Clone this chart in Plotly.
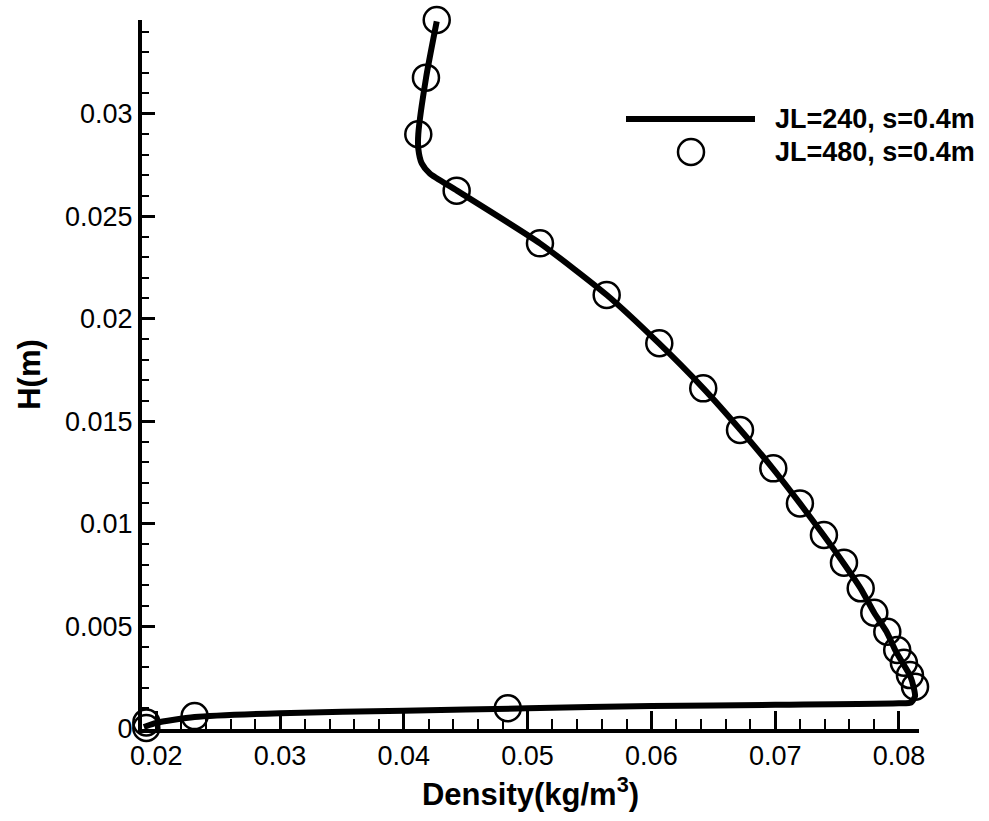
import plotly.graph_objects as go

# ---- data: JL=240 (solid line) ----
line_density = [0.0190, 0.0200, 0.0231, 0.0300, 0.0400, 0.0500, 0.0600, 0.0700, 0.0800, 0.0810,
                0.0813, 0.0812, 0.0809, 0.0803, 0.0797, 0.0790, 0.0780, 0.0769, 0.0755, 0.0739,
                0.0720, 0.0698, 0.0672, 0.0642, 0.0606, 0.0564, 0.0510, 0.0443, 0.0421, 0.04145,
                0.04117, 0.04117, 0.0418, 0.04266]
line_height = [0.00010, 0.00030, 0.00058, 0.00077, 0.00089, 0.00101, 0.00112, 0.00118, 0.00125, 0.00130,
               0.00160, 0.00200, 0.00260, 0.00322, 0.00385, 0.00474, 0.00567, 0.00686, 0.00811, 0.00946,
               0.01100, 0.01271, 0.01458, 0.01661, 0.01881, 0.02116, 0.02368, 0.02625, 0.02709, 0.02758,
               0.02830, 0.02900, 0.03176, 0.03450]

# ---- data: JL=480 (circles) ----
circ_density = [0.0192, 0.0192, 0.0231, 0.0484, 0.08165, 0.08130, 0.08089, 0.08040, 0.07986, 0.07906,
                0.07801, 0.07691, 0.07556, 0.07394, 0.07200, 0.06985, 0.06716, 0.06419, 0.06064,
                0.05639, 0.05100, 0.04427, 0.04117, 0.04179, 0.04266]
circ_height = [0.00005, 0.00032, 0.00063, 0.00101, 0.00141, 0.00206, 0.00263, 0.00323, 0.00385, 0.00474,
               0.00567, 0.00686, 0.00811, 0.00946, 0.01100, 0.01271, 0.01458, 0.01661, 0.01881,
               0.02116, 0.02368, 0.02625, 0.02900, 0.03176, 0.03457]

series_names = ["JL=240, s=0.4m", "JL=480, s=0.4m"]

x_tickvals = [0.02, 0.03, 0.04, 0.05, 0.06, 0.07, 0.08]
x_ticktext = ["0.02", "0.03", "0.04", "0.05", "0.06", "0.07", "0.08"]
y_tickvals = [0, 0.005, 0.01, 0.015, 0.02, 0.025, 0.03]
y_ticktext = ["0", "0.005", "0.01", "0.015", "0.02", "0.025", "0.03"]

FONT = "Liberation Sans, Arial, sans-serif"

fig = go.Figure()
fig.add_trace(go.Scatter(
    x=line_density, y=line_height, mode="lines", name=series_names[0],
    line=dict(color="black", width=6, shape="spline", smoothing=0.6), cliponaxis=False, showlegend=False))
fig.add_trace(go.Scatter(
    x=circ_density, y=circ_height, mode="markers", name=series_names[1],
    marker=dict(symbol="circle-open", size=26, color="black", line=dict(width=2.5, color="black")),
    cliponaxis=False, showlegend=False))

L, R, T, B = 142, 70, 20, 92
W, H = 989, 821
pw, ph = W - L - R, H - T - B

def px(x):
    return (x - L) / pw

def py(y):
    return (H - B - y) / ph

# manual legend
fig.add_shape(type="line", xref="paper", yref="paper",
              x0=px(626), x1=px(755), y0=py(119), y1=py(119),
              line=dict(color="black", width=6))
fig.add_shape(type="circle", xref="paper", yref="paper",
              xsizemode="pixel", ysizemode="pixel",
              xanchor=px(691), yanchor=py(152),
              x0=-13, x1=13, y0=-13, y1=13,
              line=dict(color="black", width=2.5))
for i, yy in enumerate([119, 152]):
    fig.add_annotation(x=px(773), y=py(yy), xref="paper", yref="paper",
                       text="<b>%s</b>" % series_names[i], showarrow=False,
                       xanchor="left", yanchor="middle",
                       font=dict(family=FONT, size=27, color="black"))

fig.update_layout(
    width=W, height=H,
    margin=dict(l=L, r=R, t=T, b=B, autoexpand=False),
    paper_bgcolor="white", plot_bgcolor="white",
    font=dict(family=FONT, color="black"),
    showlegend=False,
    xaxis=dict(
        range=[0.01885, 0.08162], showgrid=False, zeroline=False,
        showline=True, linecolor="black", linewidth=4,
        tickvals=x_tickvals, ticktext=x_ticktext,
        ticks="inside", ticklen=18, tickwidth=3, tickcolor="black",
        tickfont=dict(family=FONT, size=27, color="black"),
        minor=dict(dtick=0.002, tick0=0, ticks="inside", ticklen=10, tickwidth=1.5, tickcolor="black"),
        title=dict(text="<b>Density(kg/m<sup>3</sup>)</b>", font=dict(family=FONT, size=31, color="black"),
                   standoff=14),
    ),
    yaxis=dict(
        range=[0, 0.03457], showgrid=False, zeroline=False,
        showline=True, linecolor="black", linewidth=4,
        tickvals=y_tickvals, ticktext=y_ticktext,
        ticks="inside", ticklen=13, tickwidth=3, tickcolor="black",
        tickfont=dict(family=FONT, size=27, color="black"),
        minor=dict(dtick=0.001, tick0=0, ticks="inside", ticklen=7, tickwidth=1.5, tickcolor="black"),
        title=dict(text="<b>H(m)</b>", font=dict(family=FONT, size=31, color="black"), standoff=16),
    ),
)

fig.write_html("out.html")
